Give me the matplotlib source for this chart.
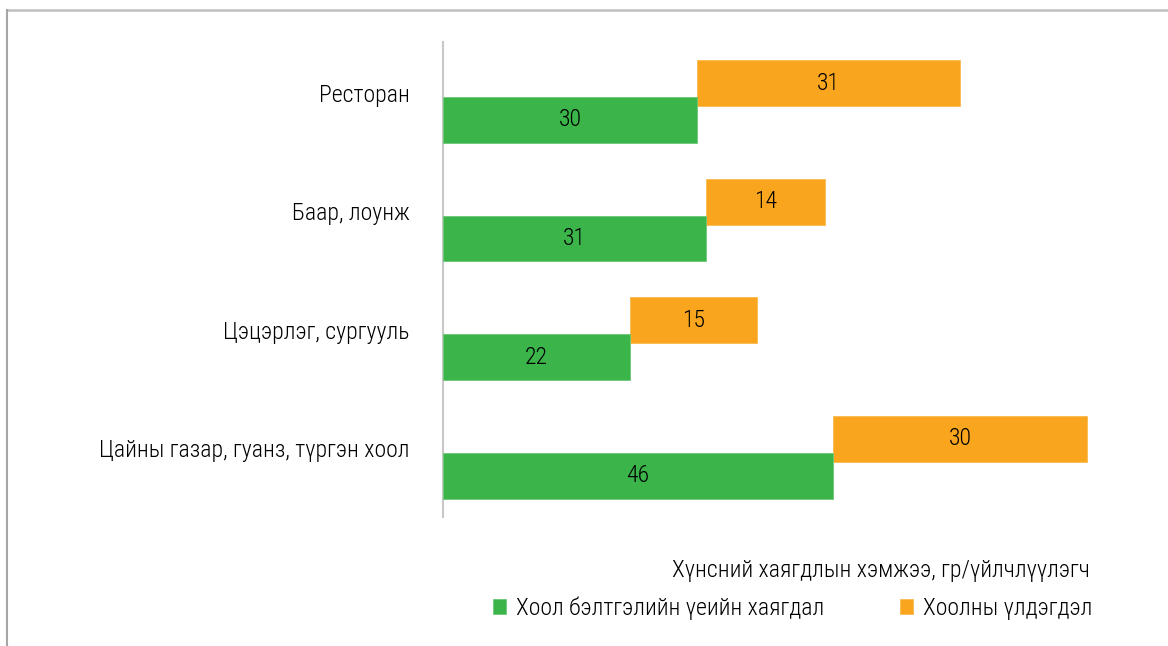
import os
import matplotlib
matplotlib.use("Agg")
import matplotlib.pyplot as plt
from matplotlib import font_manager
from matplotlib.font_manager import FontProperties
from matplotlib.lines import Line2D

categories = ["Ресторан", "Баар, лоунж", "Цэцэрлэг, сургууль",
              "Цайны газар, гуанз, түргэн хоол"]
prep_waste = [30, 31, 22, 46]
leftover = [31, 14, 15, 30]
series_names = ["Хоол бэлтгэлийн үеийн хаягдал", "Хоолны үлдэгдэл"]
axis_title = "Хүнсний хаягдлын хэмжээ, гр/үйлчлүүлэгч"

# ---- pick a condensed font file if one is installed ----
files = font_manager.findSystemFonts()
prefs = ["RobotoCondensed-Light.", "LiberationSansNarrow-Regular", "RobotoCondensed-Regular",
         "Roboto-Condensed", "NotoSans-CondensedLight.", "NotoSans-Condensed.",
         "OpenSans_Condensed-Regular", "OpenSansCondensed-Regular",
         "OpenSans-CondensedRegular", "DejaVuSansCondensed."]
path = None
for p in prefs:
    for f in files:
        if os.path.basename(f).startswith(p):
            path = f
            break
    if path:
        break
if path:
    base_fp = FontProperties(fname=path)
else:
    base_fp = FontProperties(family="DejaVu Sans", stretch="condensed")

GREEN = "#3bb54a"
ORANGE = "#f9a61e"
TXT = "#000000"

fig = plt.figure(figsize=(11.68, 6.46), dpi=100)

# scale font so the longest category label is ~310 px wide
probe_fp = base_fp.copy()
probe_fp.set_size(20)
probe = fig.text(0, 0, categories[-1], fontproperties=probe_fp)
r = fig.canvas.get_renderer()
w = probe.get_window_extent(r).width
probe.remove()
fs = 20 * 310.0 / w
fp = base_fp.copy()
fp.set_size(fs)

ax = fig.add_axes([443 / 1168, 1 - 517 / 646, (1100 - 443) / 1168, (517 - 42) / 646])

ypos = list(range(len(categories)))
h = 0.388
off = 0.312
gb = ax.barh(ypos, prep_waste, height=h, color=GREEN, edgecolor="#6cc877", linewidth=0.6, zorder=3)
ob = ax.barh([y - off for y in ypos], leftover, left=prep_waste, height=h, color=ORANGE,
             edgecolor="#fbb850", linewidth=0.6, zorder=2)
for rect, v in zip(gb, prep_waste):
    ax.text(rect.get_x() + rect.get_width() / 2, rect.get_y() + rect.get_height() / 2, str(v),
            ha="center", va="center", fontproperties=fp, color=TXT, zorder=5)
for rect, v in zip(ob, leftover):
    ax.text(rect.get_x() + rect.get_width() / 2, rect.get_y() + rect.get_height() / 2, str(v),
            ha="center", va="center", fontproperties=fp, color=TXT, zorder=5)

ax.set_xlim(0, 657 / 8.48)
ax.set_ylim(3.350, -0.658)
ax.set_yticks([y - 0.228 for y in ypos])
ax.set_yticklabels(categories, color=TXT)
for lbl in ax.get_yticklabels():
    lbl.set_fontproperties(fp)
ax.tick_params(axis="y", length=0, pad=24)
ax.set_xticks([])
for s in ["top", "right", "bottom"]:
    ax.spines[s].set_visible(False)
ax.spines["left"].set_color("#c8c8c8")
ax.spines["left"].set_linewidth(1.5)

fig.text(1090 / 1168, 1 - 570 / 646, axis_title, ha="right", va="center", fontproperties=fp, color=TXT)

leg = fig.legend([gb, ob], series_names, loc="center right", bbox_to_anchor=(1092 / 1168, 1 - 608 / 646),
                 ncol=2, frameon=False, prop=fp, handlelength=0.55, handleheight=0.55,
                 handletextpad=0.4, columnspacing=3.2, borderaxespad=0, borderpad=0)
for t in leg.get_texts():
    t.set_color(TXT)

# frame lines (top and left)
fig.add_artist(Line2D([7 / 1168, 1], [1 - 10 / 646, 1 - 10 / 646], transform=fig.transFigure,
                      color="#bfbfbf", linewidth=1.8))
fig.add_artist(Line2D([7 / 1168, 7 / 1168], [0, 1 - 10 / 646], transform=fig.transFigure,
                      color="#a6a6a6", linewidth=1.5))

fig.savefig("out.png", dpi=100)
